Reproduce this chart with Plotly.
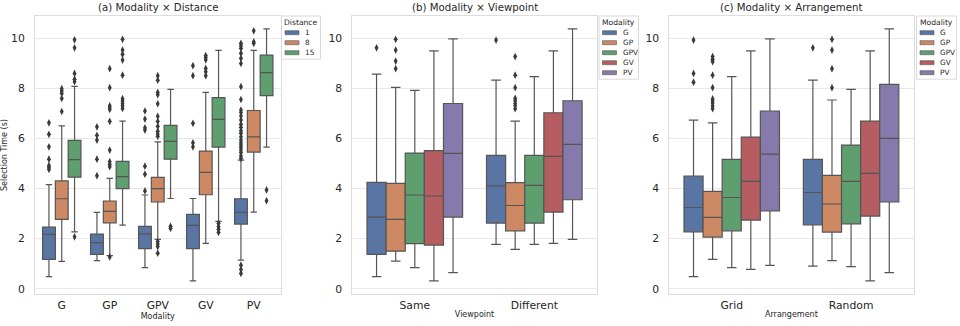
import plotly.graph_objects as go

# ---------------------------------------------------------------------------
# Data: selection-time box statistics (seconds)
# ---------------------------------------------------------------------------
modalities = ["G", "GP", "GPV", "GV", "PV"]
distances = ["1", "8", "15"]
viewpoints = ["Same", "Different"]
arrangements = ["Grid", "Random"]

# (a) Modality x Distance -- one row per distance, columns follow `modalities`
dist_q1 = [
    [1.17, 1.37, 1.60, 1.60, 2.58],
    [2.77, 2.63, 3.46, 3.75, 5.45],
    [4.45, 3.99, 5.17, 5.65, 7.70],
]
dist_med = [
    [2.17, 1.84, 2.19, 2.53, 3.05],
    [3.59, 3.09, 3.99, 4.64, 6.06],
    [5.15, 4.47, 5.88, 6.76, 8.62],
]
dist_q3 = [
    [2.46, 2.18, 2.49, 2.97, 3.59],
    [4.30, 3.50, 4.44, 5.49, 7.11],
    [5.92, 5.08, 6.52, 7.62, 9.32],
]
dist_lo = [
    [0.48, 1.12, 0.84, 0.31, 1.14],
    [1.09, 1.32, 1.97, 1.81, 3.06],
    [2.27, 2.54, 3.60, 2.69, 5.65],
]
dist_hi = [
    [4.15, 3.05, 3.74, 3.60, 5.13],
    [6.50, 4.40, 5.86, 7.83, 9.51],
    [8.07, 6.69, 7.95, 9.51, 10.37],
]
dist_out = [
    [
        [6.62, 6.16, 5.66, 5.17, 4.92, 4.84, 4.76],
        [6.46, 6.12, 5.93, 5.17, 4.51],
        [7.09, 6.77, 6.42, 6.33, 4.89, 4.57, 3.90],
        [8.90, 8.50, 6.60, 5.82, 5.66],
        [9.79, 9.69, 9.59, 9.39, 9.19, 8.99, 8.06, 7.55, 7.13, 7.03, 6.89,
         6.73, 6.56, 6.44, 6.30, 6.20, 6.06, 5.93, 5.82, 5.73, 5.63, 5.53,
         5.43, 5.30, 5.20, 0.94, 0.77, 0.61],
    ],
    [
        [7.98, 7.89, 7.79, 7.59, 7.07],
        [8.78, 8.02, 7.30, 7.22, 7.15, 6.68, 5.53, 5.07, 4.96, 4.87, 1.27],
        [8.50, 8.32, 7.83, 7.74, 7.38, 6.88, 6.68, 6.48, 6.28, 6.17, 6.08,
         1.88, 1.78, 1.68, 1.42],
        [9.30, 9.22, 9.13, 8.79, 8.66, 8.50],
        [10.29, 9.85, 9.79],
    ],
    [
        [9.93, 9.61, 8.59, 8.36, 8.26, 2.07],
        [9.95, 9.52, 9.35, 9.12, 8.52, 7.58, 7.49, 7.39, 7.30, 7.19],
        [2.49, 2.41],
        [2.61, 2.47, 2.37, 2.25],
        [3.94, 3.51],
    ],
]

# (b) Modality x Viewpoint -- one row per modality, columns follow `viewpoints`
view_q1 = [[1.37, 2.62], [1.50, 2.31], [1.80, 2.62], [1.74, 3.06], [2.86, 3.55]]
view_med = [[2.86, 4.10], [2.77, 3.32], [3.74, 4.12], [3.70, 5.28], [5.40, 5.76]]
view_q3 = [[4.24, 5.32], [4.20, 4.23], [5.41, 5.32], [5.51, 7.02], [7.39, 7.50]]
view_lo = [[0.48, 1.77], [1.10, 1.57], [0.84, 1.77], [0.31, 1.81], [0.64, 1.97]]
view_hi = [[8.56, 8.32], [8.03, 6.69], [7.91, 8.46], [9.49, 9.49], [9.97, 10.37]]
view_out = [
    [[9.61], [9.92]],
    [[9.95, 9.52, 9.08, 8.78], [9.26, 8.52, 8.02, 7.59, 7.50, 7.39, 7.30, 7.18]],
    [[], []],
    [[], []],
    [[], []],
]

# (c) Modality x Arrangement -- one row per modality, columns follow `arrangements`
arr_q1 = [[2.27, 2.55], [2.06, 2.26], [2.31, 2.59], [2.74, 2.90], [3.11, 3.46]]
arr_med = [[3.24, 3.84], [2.85, 3.38], [3.64, 4.28], [4.28, 4.60], [5.37, 6.00]]
arr_q3 = [[4.49, 5.16], [3.88, 4.52], [5.16, 5.73], [6.05, 6.69], [7.09, 8.15]]
arr_lo = [[0.48, 0.90], [1.17, 1.12], [0.84, 0.88], [0.77, 0.31], [0.93, 0.64]]
arr_hi = [[6.73, 8.32], [6.62, 7.53], [8.46, 7.95], [9.49, 9.49], [9.97, 10.37]]
arr_out = [
    [[9.92, 8.59, 8.24], [9.61]],
    [[9.26, 9.15, 9.06, 8.52, 8.02, 7.57, 7.50, 7.41, 7.29, 7.18],
     [9.95, 9.52, 8.78, 8.02]],
    [[], []],
    [[], []],
    [[], []],
]

# ---------------------------------------------------------------------------
# Styling
# ---------------------------------------------------------------------------
FONT = "DejaVu Sans"
TEXT = "#262626"
EDGE = "#555555"
FLIER = "#3a3a3a"
GRID = "#e8e8e8"
SPINE = "#dddddd"
palette = ["#5875a4", "#cc8963", "#5f9e6e", "#b55d60", "#857aab"]

W, H = 960, 326
# panel extents in pixels: (left, right); shared (top, bottom)
panels_px = [(35, 280.5), (352.3, 596.8), (669.3, 913.5)]
top_px, bot_px = 16, 294
# legend boxes: (left, right) in pixels
legend_px = [(281.5, 320.5), (599, 638.5), (916.5, 956.5)]

fig = go.Figure()


def add_panel(idx, cats, names, q1, med, q3, lo, hi, out):
    xa = "x" if idx == 0 else f"x{idx + 1}"
    ya = "y" if idx == 0 else f"y{idx + 1}"
    for h, name in enumerate(names):
        has_fliers = any(len(o) for o in out[h])
        fig.add_trace(go.Box(
            x=cats,
            q1=q1[h], median=med[h], q3=q3[h],
            lowerfence=lo[h], upperfence=hi[h],
            y=out[h] if has_fliers else None,
            name=name,
            xaxis=xa, yaxis=ya,
            showlegend=False,
            offsetgroup=str(h), alignmentgroup=f"p{idx}",
            fillcolor=palette[h],
            line=dict(color=EDGE, width=1.2),
            whiskerwidth=0.5,
            boxpoints="outliers" if has_fliers else False,
            jitter=0, pointpos=0,
            marker=dict(symbol="diamond-tall", size=5.5, color=FLIER,
                        line=dict(width=0)),
            hoverinfo="skip",
        ))


add_panel(0, modalities, distances, dist_q1, dist_med, dist_q3,
          dist_lo, dist_hi, dist_out)
add_panel(1, viewpoints, modalities,
          view_q1, view_med, view_q3, view_lo, view_hi, view_out)
add_panel(2, arrangements, modalities,
          arr_q1, arr_med, arr_q3, arr_lo, arr_hi, arr_out)

titles = ["(a) Modality × Distance", "(b) Modality × Viewpoint",
          "(c) Modality × Arrangement"]
xtitles = ["Modality", "Viewpoint", "Arrangement"]
legend_titles = ["Distance", "Modality", "Modality"]
legend_entries = [distances, modalities, modalities]

ydom = [1 - bot_px / H, 1 - top_px / H]
annotations = []
shapes = []
layout = dict(
    width=W, height=H,
    margin=dict(l=0, r=0, t=0, b=0),
    paper_bgcolor="white", plot_bgcolor="white",
    font=dict(family=FONT, color=TEXT, size=11),
    boxmode="group", boxgap=0.2, boxgroupgap=0.0,
)


def px_x(p):
    return p / W


def px_y(p):
    return 1 - p / H


for i, (l, r) in enumerate(panels_px):
    sfx = "" if i == 0 else str(i + 1)
    layout[f"xaxis{sfx}"] = dict(
        domain=[px_x(l), px_x(r)], anchor=f"y{sfx}",
        showgrid=False, zeroline=False,
        showline=True, mirror=True, linecolor=SPINE, linewidth=1,
        ticks="", tickfont=dict(size=10.8, color=TEXT),
        ticklabelstandoff=1,
        title=dict(text=xtitles[i], font=dict(size=8, color=TEXT), standoff=0),
        automargin=False, fixedrange=True,
    )
    layout[f"yaxis{sfx}"] = dict(
        domain=ydom, anchor=f"x{sfx}",
        range=[-0.21, 10.88],
        tickvals=[0, 2, 4, 6, 8, 10],
        showgrid=True, gridcolor=GRID, gridwidth=1,
        zeroline=False,
        showline=True, mirror=True, linecolor=SPINE, linewidth=1,
        ticks="", tickfont=dict(size=10.8, color=TEXT),
        ticklabelstandoff=7,
        automargin=False, fixedrange=True,
    )
    annotations.append(dict(
        text=titles[i], x=px_x((l + r) / 2), y=px_y(8),
        xref="paper", yref="paper", xanchor="center", yanchor="middle",
        showarrow=False, font=dict(size=10.2, color=TEXT),
    ))

    # compact legend box in the top-right corner of each panel
    lx0, lx1 = legend_px[i]
    entries = legend_entries[i]
    row_h = 10.0
    first_row = 32.7
    box_bottom = first_row + row_h * (len(entries) - 1) + 6.5
    shapes.append(dict(
        type="rect", xref="paper", yref="paper",
        x0=px_x(lx0), x1=px_x(lx1), y0=px_y(box_bottom), y1=px_y(top_px),
        line=dict(color="#d9d9d9", width=1), fillcolor="white", layer="above",
    ))
    annotations.append(dict(
        text=legend_titles[i], x=px_x((lx0 + lx1) / 2), y=px_y(22.7),
        xref="paper", yref="paper", xanchor="center", yanchor="middle",
        showarrow=False, font=dict(size=7.6, color=TEXT),
    ))
    for k, label in enumerate(entries):
        cy = first_row + row_h * k
        shapes.append(dict(
            type="rect", xref="paper", yref="paper",
            x0=px_x(lx0 + 3.5), x1=px_x(lx0 + 17.5), y0=px_y(cy + 2.0),
            y1=px_y(cy - 2.0),
            line=dict(color=EDGE, width=0.6), fillcolor=palette[k],
            layer="above",
        ))
        annotations.append(dict(
            text=label, x=px_x(lx0 + 21.5), y=px_y(cy),
            xref="paper", yref="paper", xanchor="left", yanchor="middle",
            showarrow=False, font=dict(size=7.3, color=TEXT),
        ))

layout["yaxis"]["title"] = dict(text="Selection Time (s)",
                                font=dict(size=8, color=TEXT), standoff=8)
layout["annotations"] = annotations
layout["shapes"] = shapes

fig.update_layout(**layout)
fig.write_html("out.html")
